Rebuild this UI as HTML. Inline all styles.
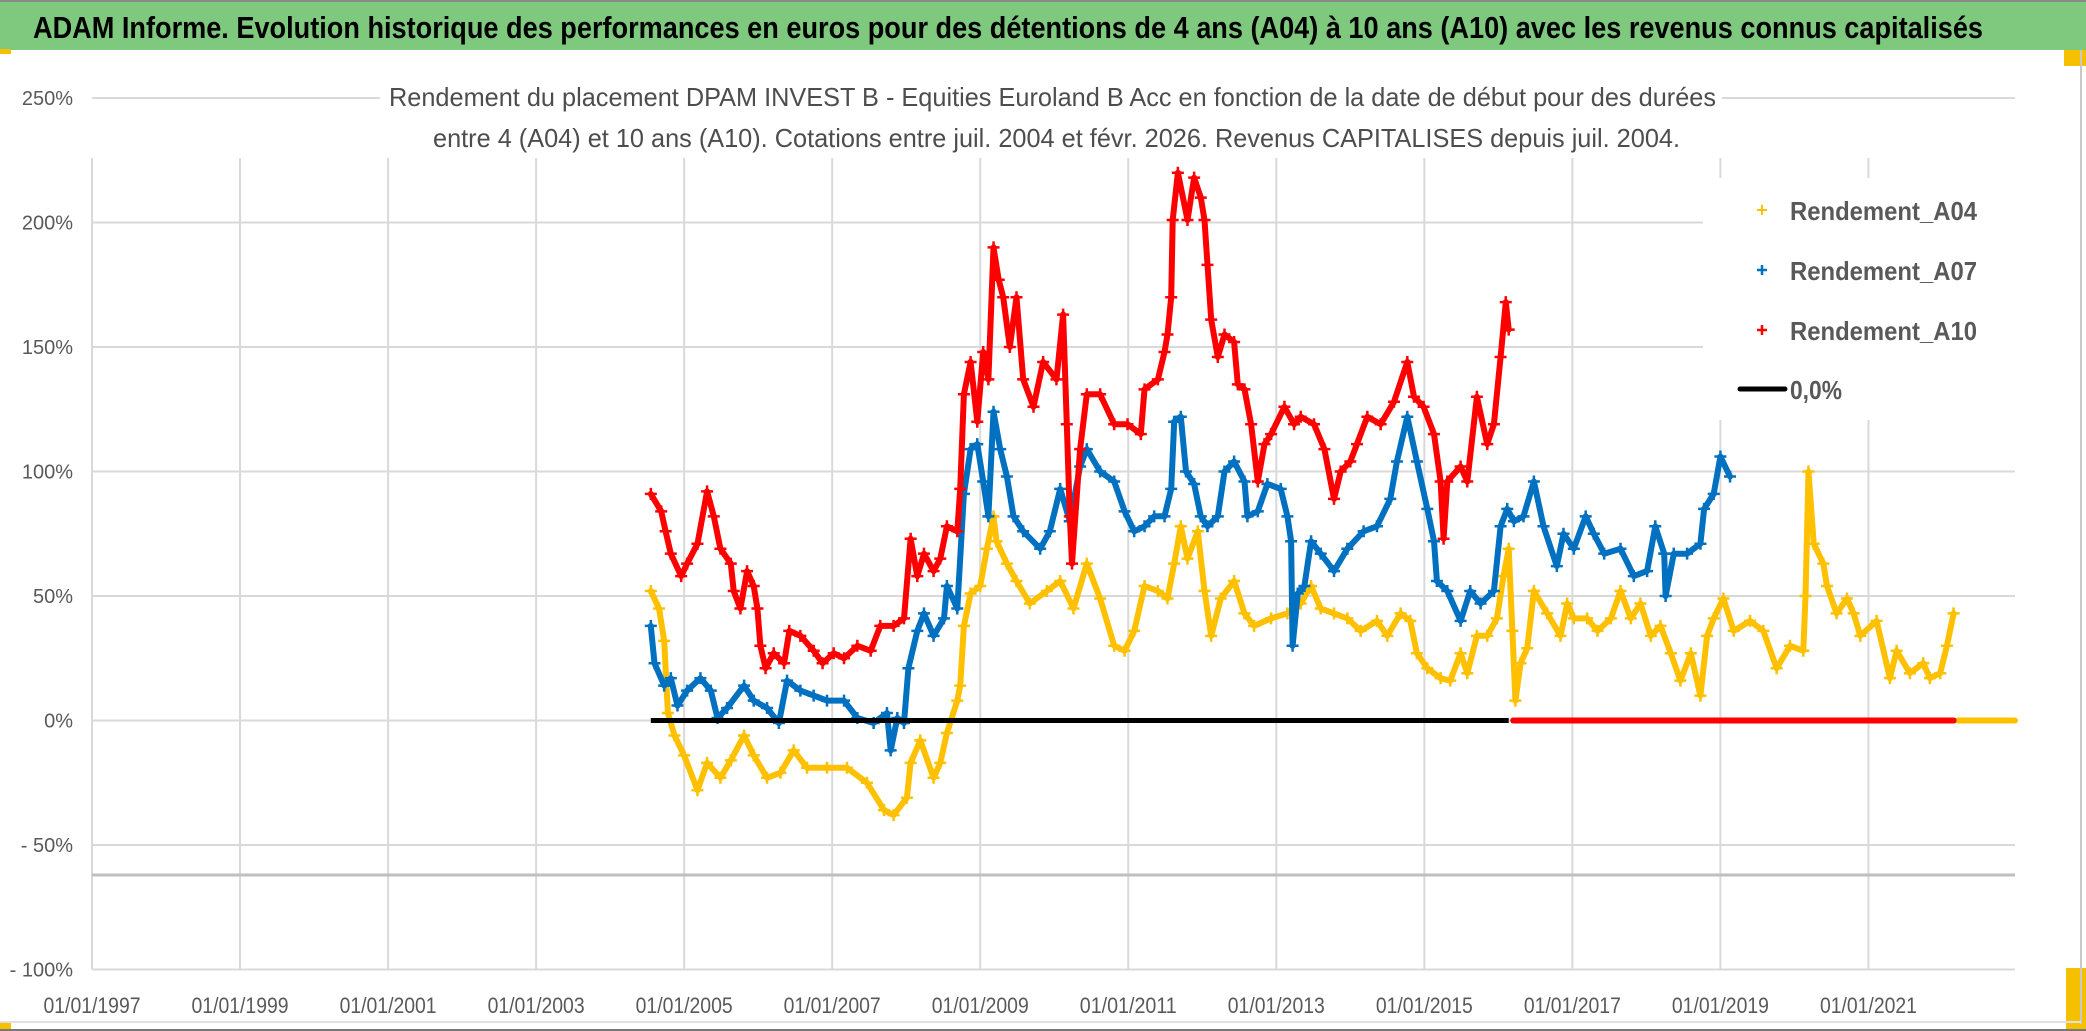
<!DOCTYPE html>
<html><head><meta charset="utf-8"><style>
html,body{margin:0;padding:0;background:#fff;}
svg{display:block;font-family:"Liberation Sans",Arial,sans-serif;}
</style></head><body>
<svg id="chart" width="2086" height="1031" viewBox="0 0 2086 1031" xmlns="http://www.w3.org/2000/svg">
<rect x="0" y="0" width="2086" height="1031" fill="#fff"/>
<rect x="0" y="0" width="2086" height="50" fill="#7fc97f"/>
<line x1="0" y1="1" x2="2086" y2="1" stroke="#8a8a8a" stroke-width="2"/>
<text x="33" y="38" font-size="31" font-weight="bold" fill="#000" textLength="1950" lengthAdjust="spacingAndGlyphs">ADAM Informe. Evolution historique des performances en euros pour des détentions de 4 ans (A04) à 10 ans (A10) avec les revenus connus capitalisés</text>
<rect x="0" y="49" width="11" height="5" fill="#f5c000"/>
<rect x="2064" y="50" width="22" height="16" fill="#f5c000"/>
<rect x="2066" y="968" width="20" height="63" fill="#f5c000"/>
<rect x="0" y="1023" width="11" height="8" fill="#f5c000"/>
<line x1="2081" y1="50" x2="2081" y2="1024" stroke="#c8c8c8" stroke-width="2"/>
<line x1="0" y1="1022" x2="2081" y2="1022" stroke="#e0e0e0" stroke-width="2"/>
<line x1="0" y1="1030" x2="2086" y2="1030" stroke="#777" stroke-width="2"/>
<g id="grid"></g>
<g id="series"></g>
<rect x="380" y="60" width="1342" height="97" fill="#fff"/>
<text x="389" y="106" font-size="26" fill="#4d4d4d" textLength="1327" lengthAdjust="spacingAndGlyphs">Rendement du placement DPAM INVEST B - Equities Euroland B Acc en fonction de la date de début pour des durées</text>
<text x="433" y="147" font-size="26" fill="#4d4d4d" textLength="1247" lengthAdjust="spacingAndGlyphs">entre 4 (A04) et 10 ans (A10). Cotations entre juil. 2004 et févr. 2026. Revenus CAPITALISES depuis juil. 2004.</text>
<g id="axes"></g>
<g>
<rect x="1703" y="178" width="312" height="242" fill="#fff"/>
<g>
<path d="M1757 210h10M1762 205v10" stroke="#ffc000" stroke-width="2"/>
<text x="1790" y="220" font-size="26" font-weight="bold" fill="#595959" textLength="187" lengthAdjust="spacingAndGlyphs">Rendement_A04</text></g>
<g>
<path d="M1757 270h10M1762 265v10" stroke="#0070c0" stroke-width="2.5"/>
<text x="1790" y="280" font-size="26" font-weight="bold" fill="#595959" textLength="187" lengthAdjust="spacingAndGlyphs">Rendement_A07</text></g>
<g>
<path d="M1757 330h10M1762 325v10" stroke="#ff0000" stroke-width="2.5"/>
<text x="1790" y="340" font-size="26" font-weight="bold" fill="#595959" textLength="187" lengthAdjust="spacingAndGlyphs">Rendement_A10</text></g>
<g>
<line x1="1740" y1="389" x2="1785" y2="389" stroke="#000" stroke-width="5" stroke-linecap="round"/>
<text x="1790" y="399" font-size="26" font-weight="bold" fill="#595959" textLength="52" lengthAdjust="spacingAndGlyphs">0,0%</text></g>
</g>
</svg>
<script>
const yTicks = [250, 200, 150, 100, 50, 0, -50, -100];
const yTickLabels = ["250%", "200%", "150%", "100%", "50%", "0%", "- 50%", "- 100%"];
const xTicks = [1997, 1999, 2001, 2003, 2005, 2007, 2009, 2011, 2013, 2015, 2017, 2019, 2021];
const xTickLabels = ["01/01/1997","01/01/1999","01/01/2001","01/01/2003","01/01/2005","01/01/2007","01/01/2009","01/01/2011","01/01/2013","01/01/2015","01/01/2017","01/01/2019","01/01/2021"];
const xMin = 1997, xMax = 2022.98;

const a04Dates = [2004.55,2004.66,2004.73,2004.78,2004.87,2005.00,2005.18,2005.31,2005.49,2005.63,2005.81,2005.94,2006.12,2006.30,2006.48,2006.66,2006.93,2007.20,2007.47,2007.70,2007.83,2008.01,2008.06,2008.19,2008.37,2008.46,2008.55,2008.69,2008.73,2008.78,2008.87,2009.00,2009.09,2009.18,2009.22,2009.36,2009.49,2009.67,2009.90,2010.08,2010.26,2010.44,2010.62,2010.81,2010.95,2011.08,2011.22,2011.40,2011.53,2011.62,2011.71,2011.80,2011.94,2012.03,2012.12,2012.25,2012.43,2012.57,2012.70,2012.93,2013.15,2013.33,2013.47,2013.60,2013.78,2013.96,2014.14,2014.36,2014.50,2014.68,2014.81,2014.90,2015.04,2015.22,2015.35,2015.49,2015.58,2015.71,2015.85,2015.98,2016.07,2016.14,2016.19,2016.23,2016.30,2016.39,2016.48,2016.66,2016.84,2016.93,2017.02,2017.20,2017.34,2017.52,2017.65,2017.79,2017.92,2018.06,2018.19,2018.33,2018.46,2018.60,2018.73,2018.82,2018.91,2019.04,2019.18,2019.40,2019.58,2019.76,2019.94,2020.12,2020.15,2020.19,2020.26,2020.39,2020.44,2020.57,2020.71,2020.80,2020.89,2021.11,2021.29,2021.38,2021.56,2021.74,2021.83,2021.97,2022.06,2022.15,2022.20,2022.40,2022.60,2022.80,2022.98];
const a04Values = [52,45,32,3,-6,-14,-28,-17,-23,-16,-6,-14,-23,-21,-12,-19,-19,-19,-25,-36,-38,-31,-17,-8,-23,-17,-5,8,14,38,51,54,69,82,72,63,56,47,52,56,45,63,49,30,28,36,54,52,49,63,78,65,76,52,34,49,56,43,38,41,43,47,54,45,43,41,36,40,34,43,40,27,21,17,16,27,19,34,34,41,58,69,36,8,23,29,52,43,34,47,41,41,36,41,52,41,47,34,38,27,16,27,10,34,41,49,36,40,36,21,30,28,50,100,71,63,54,43,49,43,34,40,17,28,19,23,17,19,30,43,0,0,0,0,0];

const a07Dates = [2004.55,2004.60,2004.73,2004.82,2004.91,2005.04,2005.22,2005.36,2005.45,2005.58,2005.81,2005.94,2006.12,2006.28,2006.39,2006.57,2006.75,2006.93,2007.16,2007.34,2007.56,2007.74,2007.79,2007.88,2007.97,2008.03,2008.15,2008.24,2008.37,2008.51,2008.55,2008.69,2008.78,2008.87,2008.96,2009.04,2009.11,2009.18,2009.27,2009.36,2009.45,2009.58,2009.81,2009.94,2010.08,2010.21,2010.35,2010.44,2010.62,2010.81,2010.95,2011.08,2011.22,2011.35,2011.49,2011.58,2011.62,2011.71,2011.78,2011.89,2011.98,2012.07,2012.21,2012.30,2012.43,2012.57,2012.61,2012.75,2012.88,2013.06,2013.15,2013.20,2013.22,2013.29,2013.38,2013.47,2013.60,2013.78,2013.96,2014.18,2014.36,2014.54,2014.63,2014.77,2014.90,2015.04,2015.13,2015.17,2015.31,2015.49,2015.62,2015.76,2015.94,2016.03,2016.12,2016.21,2016.34,2016.48,2016.61,2016.79,2016.88,2017.02,2017.18,2017.29,2017.43,2017.65,2017.83,2018.01,2018.12,2018.24,2018.26,2018.37,2018.55,2018.73,2018.78,2018.91,2019.00,2019.13,2019.20,2020.50,2022.15];
const a07Values = [38,23,14,17,6,12,17,12,1,5,14,8,5,-1,16,12,10,8,8,1,-1,3,-12,1,-1,21,36,43,34,41,54,45,91,109,111,96,82,124,109,98,82,76,69,76,93,80,102,109,100,96,84,76,78,82,82,93,120,122,100,95,82,78,82,100,104,96,82,84,95,93,82,72,30,51,54,72,67,60,69,76,78,89,104,122,104,85,72,56,52,40,52,47,52,78,85,80,82,96,78,62,75,69,82,75,67,69,58,60,78,67,50,67,67,71,85,91,106,98,0,0,0];

const a10Dates = [2004.55,2004.69,2004.75,2004.82,2004.96,2005.04,2005.18,2005.31,2005.40,2005.49,2005.63,2005.67,2005.76,2005.85,2005.94,2005.99,2006.03,2006.10,2006.21,2006.35,2006.42,2006.57,2006.75,2006.87,2007.02,2007.16,2007.34,2007.52,2007.65,2007.83,2007.97,2008.06,2008.15,2008.24,2008.37,2008.46,2008.55,2008.69,2008.73,2008.78,2008.87,2008.96,2009.04,2009.11,2009.18,2009.25,2009.31,2009.40,2009.49,2009.58,2009.72,2009.85,2010.03,2010.12,2010.17,2010.21,2010.24,2010.35,2010.44,2010.62,2010.81,2010.99,2011.17,2011.22,2011.40,2011.49,2011.53,2011.58,2011.60,2011.67,2011.80,2011.89,2011.98,2012.03,2012.07,2012.12,2012.21,2012.30,2012.43,2012.48,2012.57,2012.66,2012.75,2012.84,2012.93,2013.11,2013.24,2013.33,2013.51,2013.65,2013.78,2013.87,2014.00,2014.09,2014.23,2014.41,2014.59,2014.77,2014.86,2014.99,2015.13,2015.22,2015.26,2015.31,2015.49,2015.58,2015.71,2015.85,2015.94,2016.03,2016.10,2016.14,2016.20,2017.00,2018.00,2019.00,2020.00,2021.00,2022.15];
const a10Values = [91,84,76,67,58,63,71,92,82,69,63,52,45,60,54,45,30,21,27,23,36,34,28,23,27,25,30,28,38,38,41,73,58,67,60,65,78,76,93,131,144,120,148,137,190,177,170,150,170,137,126,144,137,163,119,82,63,109,131,131,119,119,115,133,137,148,155,170,201,220,201,218,210,201,183,161,146,155,152,135,133,119,96,111,115,126,119,122,119,109,89,100,104,111,122,119,128,144,130,126,115,96,73,96,102,96,130,111,119,146,168,157,0,0,0,0,0,0,0];

const zeroLineDates = [2004.55, 2016.14];
const zeroLineValues = [0, 0];

const NS = "http://www.w3.org/2000/svg";
const PL = 92, PR = 2015, Y0 = 720.5, PXPCT = 2.49;
function xScale(t){ return PL + (t - xMin) * (PR - PL) / (xMax - xMin); }
function yScale(v){ return Y0 - v * PXPCT; }
function mk(tag, attrs, parent){ const e = document.createElementNS(NS, tag); for (const k in attrs) e.setAttribute(k, attrs[k]); parent.appendChild(e); return e; }

const grid = document.getElementById('grid');
const axes = document.getElementById('axes');
yTicks.forEach((v, i) => {
  const gl = mk('line', {x1: PL, x2: PR, y1: yScale(v), y2: yScale(v), stroke: '#d9d9d9', 'stroke-width': 2}, grid);
  
  
  const t = mk('text', {x: 73, y: yScale(v) + 7, 'font-size': 20, fill: '#595959', 'text-anchor': 'end'}, axes);
  t.textContent = yTickLabels[i];
  
  
});
xTicks.forEach((yr, i) => {
  const gl = mk('line', {x1: xScale(yr), x2: xScale(yr), y1: 158, y2: yScale(-100), stroke: '#d9d9d9', 'stroke-width': 2}, grid);
  
  
  const t = mk('text', {x: xScale(yr), y: 1013, 'font-size': 22, fill: '#595959', 'text-anchor': 'middle', textLength: 97, lengthAdjust: 'spacingAndGlyphs'}, axes);
  t.textContent = xTickLabels[i];
  
  
});
const sep = mk('line', {x1: PL, x2: PR, y1: 875, y2: 875, stroke: '#bfbfbf', 'stroke-width': 3}, grid);



const layer = document.getElementById('series');
function drawSeries(dates, values, color, name){
  const g = mk('g', {}, layer);
  
  
  let seg = [];
  const segs = [];
  for (let i = 0; i < dates.length; i++){
    if (i > 0 && ((values[i] === 0) !== (values[i-1] === 0))) { segs.push(seg); seg = []; }
    seg.push([xScale(dates[i]), yScale(values[i])]);
  }
  segs.push(seg);
  segs.forEach(s => {
    if (s.length < 2) return;
    const p = mk('polyline', {points: s.map(q => q[0].toFixed(1) + ',' + q[1].toFixed(1)).join(' '), fill: 'none', stroke: color, 'stroke-width': 6, 'stroke-linejoin': 'round', 'stroke-linecap': 'round'}, g);
    
    
  });
  for (let i = 0; i < dates.length; i++){
    if (values[i] === 0) continue;
    const x = xScale(dates[i]), y = yScale(values[i]);
    const m = mk('path', {d: `M${x-6} ${y}h12M${x} ${y-6}v12`, stroke: color, 'stroke-width': 2.5}, g);
    
    
  }
}
drawSeries(a04Dates, a04Values, '#ffc000', 'series-a04');
drawSeries(a07Dates, a07Values, '#0070c0', 'series-a07');
drawSeries(a10Dates, a10Values, '#ff0000', 'series-a10');
const zl = mk('line', {x1: xScale(zeroLineDates[0]), x2: xScale(zeroLineDates[1]), y1: yScale(zeroLineValues[0]), y2: yScale(zeroLineValues[1]), stroke: '#000', 'stroke-width': 5}, layer);


</script>
</body></html>
